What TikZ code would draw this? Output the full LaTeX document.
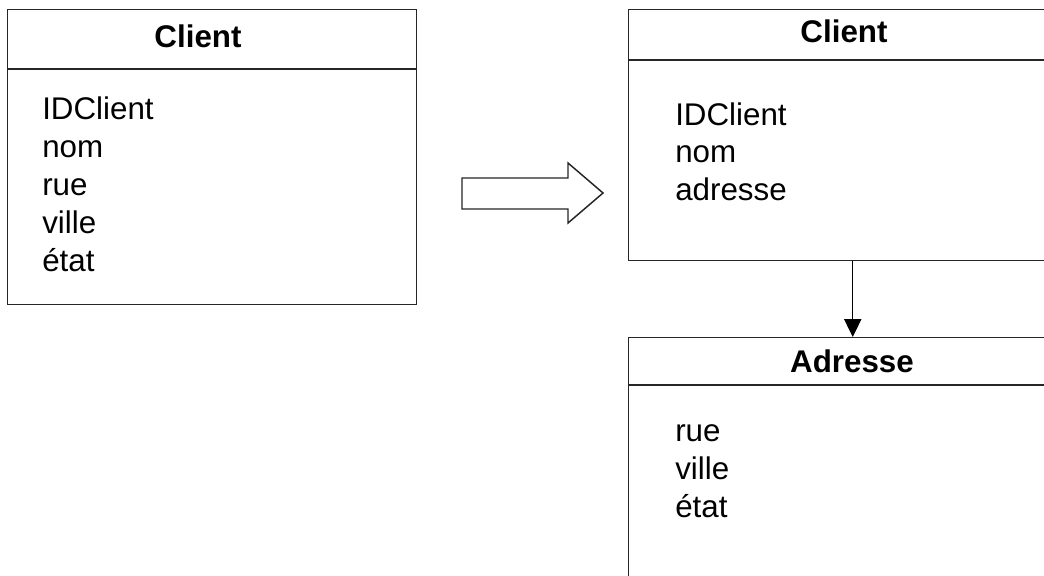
\documentclass[tikz,border=0pt]{standalone}
\usepackage{fontspec}
\setmainfont{Liberation Sans}
\usetikzlibrary{arrows.meta}

\tikzset{
    classbox/.style={draw=black!85, line width=1.1pt, anchor=north west, inner sep=0pt},
    rule/.style={draw=black!85, line width=1.1pt},
    title/.style={anchor=base, inner sep=0pt, font=\fontsize{23.5}{28}\selectfont\bfseries},
    attr/.style={anchor=base west, inner sep=0pt, font=\fontsize{23.5}{28}\selectfont}
}

\begin{document}
\begin{tikzpicture}[x=0.75pt, y=-0.75pt]
    \clip (0,0) rectangle (1044,575);
    \fill[white] (0,0) rectangle (1044,575);

    % left: Client before
    \node[classbox, minimum width=306.75pt, minimum height=221.25pt] (oldclient) at (7,9) {};
    \draw[rule] (oldclient.west |- 0,69) -- (oldclient.east |- 0,69);
    \node[title] (oldtitle) at (198,47) {Client};
    \foreach \t [count=\i] in {IDClient,nom,rue,ville,état}
        \node[attr] (oldattr\i) at (42,119+38*\i-38) {\t};

    % hollow arrow
    \draw[line width=1.1pt, draw=black!85] (462,178) -- (568,178) -- (568,163) -- (603,193)
        -- (568,223) -- (568,209) -- (462,209) -- cycle;

    % right: Client after
    \node[classbox, minimum width=336pt, minimum height=188.25pt] (client) at (628,9) {};
    \draw[rule] (client.west |- 0,60) -- (client.east |- 0,60);
    \node[title] (clienttitle) at (844,42) {Client};
    \foreach \t [count=\i] in {IDClient,nom,adresse}
        \node[attr] (clientattr\i) at (675,125+37.5*\i-37.5) {\t};

    % right: Adresse
    \node[classbox, minimum width=336pt, minimum height=195pt] (adresse) at (628,337) {};
    \draw[rule] (adresse.west |- 0,385) -- (adresse.east |- 0,385);
    \node[title] (adressetitle) at (852,372) {Adresse};
    \foreach \t [count=\i] in {rue,ville,état}
        \node[attr] (adresseattr\i) at (675,441+38*\i-38) {\t};

    \draw[line width=0.8pt, -{Triangle[width=13pt,length=13.5pt]}] (client.south) -- (adresse.north);
\end{tikzpicture}
\end{document}
